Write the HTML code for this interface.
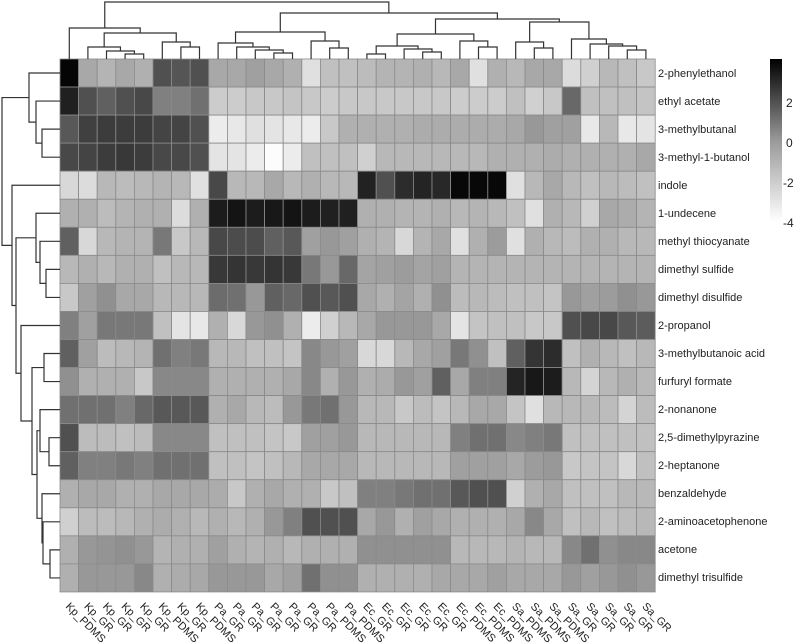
<!DOCTYPE html>
<html><head><meta charset="utf-8"><style>
body{margin:0;background:#fff;width:800px;height:643px;overflow:hidden}
svg{display:block;font-family:"Liberation Sans",Arial,sans-serif}
</style></head><body>
<svg id="s" width="800" height="643" xmlns="http://www.w3.org/2000/svg">
<defs><linearGradient id="cb" x1="0" y1="0" x2="0" y2="1">
<stop offset="0" stop-color="#000"/><stop offset="0.5" stop-color="#999"/><stop offset="1" stop-color="#fff"/></linearGradient></defs>
<g id="cells"></g>
<g id="dend" stroke="#333" stroke-width="1.2" fill="none"></g>
<g font-size="11" fill="#222">
<text x="658" y="77">2-phenylethanol</text>
<text x="658" y="105">ethyl acetate</text>
<text x="658" y="133">3-methylbutanal</text>
<text x="658" y="161">3-methyl-1-butanol</text>
<text x="658" y="189">indole</text>
<text x="658" y="217">1-undecene</text>
<text x="658" y="245">methyl thiocyanate</text>
<text x="658" y="273">dimethyl sulfide</text>
<text x="658" y="301">dimethyl disulfide</text>
<text x="658" y="329">2-propanol</text>
<text x="658" y="357">3-methylbutanoic acid</text>
<text x="658" y="385">furfuryl formate</text>
<text x="658" y="413">2-nonanone</text>
<text x="658" y="441">2,5-dimethylpyrazine</text>
<text x="658" y="469">2-heptanone</text>
<text x="658" y="497">benzaldehyde</text>
<text x="658" y="525">2-aminoacetophenone</text>
<text x="658" y="553">acetone</text>
<text x="658" y="581">dimethyl trisulfide</text>
</g>
<g font-size="11" fill="#222" id="cl">
<text transform="translate(65,607) rotate(45)">Kp_PDMS</text>
<text transform="translate(83.6,607) rotate(45)">Kp_GR</text>
<text transform="translate(102.2,607) rotate(45)">Kp_GR</text>
<text transform="translate(120.8,607) rotate(45)">Kp_GR</text>
<text transform="translate(139.4,607) rotate(45)">Kp_GR</text>
<text transform="translate(158,607) rotate(45)">Kp_PDMS</text>
<text transform="translate(176.6,607) rotate(45)">Kp_GR</text>
<text transform="translate(195.2,607) rotate(45)">Kp_PDMS</text>
<text transform="translate(213.8,607) rotate(45)">Pa_GR</text>
<text transform="translate(232.4,607) rotate(45)">Pa_GR</text>
<text transform="translate(251,607) rotate(45)">Pa_GR</text>
<text transform="translate(269.6,607) rotate(45)">Pa_GR</text>
<text transform="translate(288.2,607) rotate(45)">Pa_GR</text>
<text transform="translate(306.8,607) rotate(45)">Pa_GR</text>
<text transform="translate(325.4,607) rotate(45)">Pa_PDMS</text>
<text transform="translate(344,607) rotate(45)">Pa_PDMS</text>
<text transform="translate(362.6,607) rotate(45)">Ec_GR</text>
<text transform="translate(381.2,607) rotate(45)">Ec_GR</text>
<text transform="translate(399.8,607) rotate(45)">Ec_GR</text>
<text transform="translate(418.4,607) rotate(45)">Ec_GR</text>
<text transform="translate(437,607) rotate(45)">Ec_GR</text>
<text transform="translate(455.6,607) rotate(45)">Ec_PDMS</text>
<text transform="translate(474.2,607) rotate(45)">Ec_PDMS</text>
<text transform="translate(492.8,607) rotate(45)">Ec_PDMS</text>
<text transform="translate(511.4,607) rotate(45)">Sa_PDMS</text>
<text transform="translate(530,607) rotate(45)">Sa_PDMS</text>
<text transform="translate(548.6,607) rotate(45)">Sa_PDMS</text>
<text transform="translate(567.2,607) rotate(45)">Sa_GR</text>
<text transform="translate(585.8,607) rotate(45)">Sa_GR</text>
<text transform="translate(604.4,607) rotate(45)">Sa_GR</text>
<text transform="translate(623,607) rotate(45)">Sa_GR</text>
<text transform="translate(641.6,607) rotate(45)">Sa_GR</text>
</g>
<rect x="770" y="59" width="12" height="163" fill="url(#cb)"/>
<g font-size="12" fill="#222">
<text x="786" y="107">2</text><text x="786" y="147">0</text>
<text x="783" y="187">-2</text><text x="783" y="227">-4</text>
</g>
</svg>
<script>
(function(){
var X0=60,CW=18.6,Y0=59,RH=28.05;
var D=[
"05 a8 b4 a8 b0 50 55 50 a8 a8 a0 a8 b0 e0 c0 c0 bc b4 b4 b0 b8 a8 e0 b0 b8 a8 a8 dc d0 b8 c0 c8",
"20 50 60 50 48 80 80 70 cc cc c8 c8 c4 c8 cc c8 c8 c8 c8 c8 c8 cc cc cc c0 d0 c8 68 c0 c0 c0 c4",
"58 40 3c 3c 3c 44 44 50 ec e8 e0 e4 e8 ec c8 b0 b0 b0 b0 ac ac ac ac ac a8 98 a0 a0 e8 b8 e8 e4",
"48 44 3c 38 3c 48 48 50 e4 e4 ec fc ec c0 c0 c0 d0 b8 b8 b8 b8 b8 b8 b0 b0 b0 ac b0 b0 b0 b0 a8",
"d8 dc b8 bc b8 b4 b8 e0 48 b8 b8 a8 b8 b0 b8 b8 22 50 2c 24 28 08 08 08 e0 b8 a8 b8 c0 b8 bc c0",
"b0 b0 bc b4 b0 b0 dc b0 1c 14 1c 18 14 1c 20 20 b0 b0 b4 b4 b0 b8 b4 b8 c0 e0 b0 b8 d0 a8 ac b4",
"60 d8 b8 b4 b4 78 c8 b8 48 4c 4c 60 58 a0 98 a0 b0 b4 d8 b4 a8 e0 b0 9c e0 b0 b8 bc b0 b0 b8 b8",
"b8 b0 b8 b0 b0 c0 b8 b8 38 34 38 34 38 78 98 68 a4 a0 9c a4 a0 b4 b4 b4 b4 b4 b4 b4 b4 b4 b4 b4",
"c8 a0 90 a8 a8 b8 b8 b8 6c 70 98 60 68 50 58 50 a8 b0 a4 b0 90 bc b8 bc c0 c0 c4 98 a0 9c 90 98",
"80 a0 78 78 78 c0 e4 e8 b0 d8 98 90 b0 ec d0 b8 a8 98 98 98 a8 e4 c4 c0 c0 c8 c8 50 48 48 58 5c",
"60 a0 bc b8 b4 70 80 78 b8 b8 c0 c0 c4 88 98 a0 d8 d8 b8 a8 a0 78 90 c0 60 34 2c c0 b0 b8 c0 b8",
"90 b0 b0 b0 c8 88 88 88 b0 b0 b0 b0 a8 88 b0 98 b0 ac 98 a0 60 a8 80 80 24 18 1c b8 d4 b8 b0 b8",
"70 70 70 80 68 58 58 58 b0 a8 b8 bc 98 78 70 98 b8 b8 c8 bc c4 b8 a8 a8 c4 e0 b8 b8 b8 bc d4 bc",
"50 bc bc c0 bc 88 88 88 c0 c0 c0 c4 c8 a0 a0 98 b8 b8 b8 b8 b8 80 70 70 88 80 78 c0 c0 c0 c0 c0",
"60 80 80 78 80 70 70 70 c0 c0 c4 c0 b8 a8 a8 a8 b8 b8 b8 b8 b8 a0 a0 a0 a8 9c 98 c8 c4 c4 d8 c0",
"b0 a8 a8 b0 b0 a8 a8 a8 ac c8 b0 a8 b0 b0 c8 c0 80 80 78 70 70 58 50 50 d0 b0 a8 c0 c0 c0 b8 b8",
"d0 bc bc b8 b0 ac b0 b8 b0 b8 b0 98 80 50 50 50 a8 98 b0 a0 a8 b0 b0 b0 a8 88 a8 c0 b8 c0 bc b8",
"b0 98 94 90 98 b4 b0 b0 a0 b0 b4 b0 b8 b0 b0 b0 90 90 90 90 90 b8 b8 b8 b4 b8 b8 88 70 90 88 88",
"b0 98 98 98 88 b0 ac a8 98 98 98 a8 a0 70 90 90 b0 b0 b0 b0 a8 a8 a8 a0 a8 a8 a8 98 a0 98 90 98"];
var NS="http://www.w3.org/2000/svg",g=document.getElementById("cells");
D.forEach(function(r,i){r.split(" ").forEach(function(h,j){
var e=document.createElementNS(NS,"rect");
e.setAttribute("x",X0+j*CW);e.setAttribute("y",Y0+i*RH);e.setAttribute("width",CW);e.setAttribute("height",RH);
e.setAttribute("fill","#"+h+h+h);e.setAttribute("stroke","#8a8a8a");e.setAttribute("stroke-width","0.8");g.appendChild(e);});});
var dg=document.getElementById("dend"),P="";
function N(h,c){return{h:h,c:c};}
function dTop(n){if(typeof n=="number")return{x:X0+(n+.5)*CW,y:Y0};
var a=dTop(n.c[0]),b=dTop(n.c[1]);
P+="M"+a.x+" "+a.y+"V"+n.h+"H"+b.x+"V"+b.y;return{x:(a.x+b.x)/2,y:n.h};}
function dLeft(n){if(typeof n=="number")return{y:Y0+(n+.5)*RH,x:X0};
var a=dLeft(n.c[0]),b=dLeft(n.c[1]);
P+="M"+a.x+" "+a.y+"H"+n.h+"V"+b.y+"H"+b.x;return{y:(a.y+b.y)/2,x:n.h};}
var Kp=N(28,[0,N(33,[N(47,[1,N(51,[2,N(54,[3,4])])]),N(42,[5,N(47,[6,7])])])]);
var Pa=N(32,[N(43,[8,N(47,[9,N(50,[10,N(53,[11,12])])])]),N(41,[13,N(48,[14,15])])]);
var Ec=N(34,[N(46,[N(54,[16,17]),N(49,[18,N(52,[19,20])])]),N(41,[21,N(47,[22,23])])]);
var Sa=N(22,[N(42,[24,N(48,[25,26])]),N(39,[27,N(44,[28,N(46,[29,N(50,[30,31])])])])]);
dTop(N(2,[Kp,N(13,[Pa,N(19,[Ec,Sa])])]));
var T=N(29,[0,N(36,[1,N(42,[2,3])])]);
var B=N(12,[4,N(16,[N(36,[5,N(40,[6,N(46,[7,8])])]),N(21,[9,N(32,[N(44,[10,11]),N(37,[N(40,[12,N(49,[13,14])]),N(42,[15,N(43,[16,N(50,[17,18])])])])])])])]);
dLeft(N(2,[T,B]));
var p=document.createElementNS(NS,"path");p.setAttribute("d",P);dg.appendChild(p);
})();
</script>
</body></html>
